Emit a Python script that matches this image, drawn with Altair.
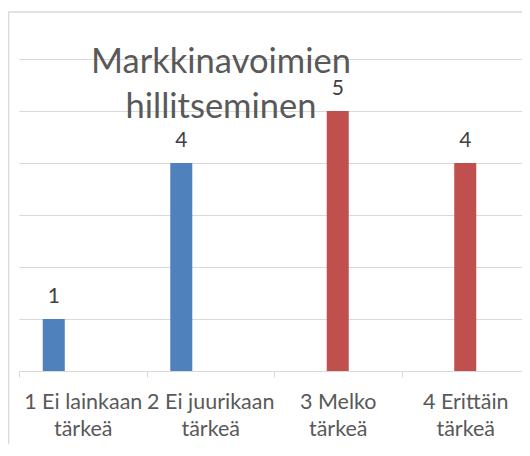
import altair as alt
import pandas as pd

categories = ["1 Ei lainkaan\ntärkeä", "2 Ei juurikaan\ntärkeä", "3 Melko\ntärkeä", "4 Erittäin\ntärkeä"]
series_names = ["Sarja1", "Sarja2", "Sarja3"]
series_colors = ["#4F81BD", "#C0504D", "#9BBB59"]
blue_values = [1, 4, None, None]
red_values = [None, None, 5, 4]
title_lines = ["Markkinavoimien", "hillitseminen"]
y_ticks = [0, 1, 2, 3, 4, 5, 6]

rows = []
for name, vals in zip(series_names[:2], [blue_values, red_values]):
    for c, v in zip(categories, vals):
        if v is not None:
            rows.append({"cat": c, "series": name, "value": v})
df = pd.DataFrame(rows)

FONT = "Lato"

x_enc = alt.X(
    "cat:N",
    sort=categories,
    scale=alt.Scale(domain=categories, paddingInner=0, paddingOuter=0),
    axis=alt.Axis(
        title=None,
        labelExpr="split(datum.label, '\\n')",
        labelAngle=0,
        labelFont=FONT,
        labelFontSize=21.5,
        labelColor="#595959",
        labelLineHeight=27,
        labelPadding=14,
        tickBand="extent",
        tickSize=6,
        tickColor="#D9D9D9",
        domainColor="#D9D9D9",
        grid=False,
    ),
)
y_enc = alt.Y(
    "value:Q",
    scale=alt.Scale(domain=[0, 6]),
    axis=alt.Axis(
        title=None, labels=False, ticks=False, domain=False,
        grid=True, gridColor="#D9D9D9", values=y_ticks,
    ),
)
xo_enc = alt.XOffset(
    "series:N",
    scale=alt.Scale(domain=series_names, paddingInner=0.24, paddingOuter=0.82),
)

base = alt.Chart(df).encode(x=x_enc, y=y_enc, xOffset=xo_enc)

bars = base.mark_bar().encode(
    color=alt.Color("series:N", scale=alt.Scale(domain=series_names, range=series_colors), legend=None)
)
labels = base.mark_text(dy=-16, baseline="alphabetic", font=FONT, fontSize=21, color="#404040").encode(
    text="value:Q"
)

one = pd.DataFrame({"k": [0]})
title = alt.Chart(one).mark_text(
    font=FONT, fontSize=34.5, color="#595959", baseline="alphabetic", align="center", lineHeight=45
).encode(x=alt.value(202), y=alt.value(14), text=alt.value(title_lines))

border_left = alt.Chart(one).mark_rule(stroke="#D9D9D9", strokeWidth=1.5).encode(
    x=alt.value(-10.5), y=alt.value(-47), y2=alt.value(390)
)
border_top = alt.Chart(one).mark_rule(stroke="#D9D9D9", strokeWidth=1.5).encode(
    x=alt.value(-10.5), x2=alt.value(511), y=alt.value(-47)
)

chart = alt.layer(border_left, border_top, bars, labels, title).properties(
    width=510,
    height=312,
    padding={"left": 11, "top": 51, "right": -7, "bottom": 73},
    autosize="none",
    background="white",
).configure_view(stroke=None)

chart.save("out.html", embed_options={"renderer": "svg", "actions": False})
